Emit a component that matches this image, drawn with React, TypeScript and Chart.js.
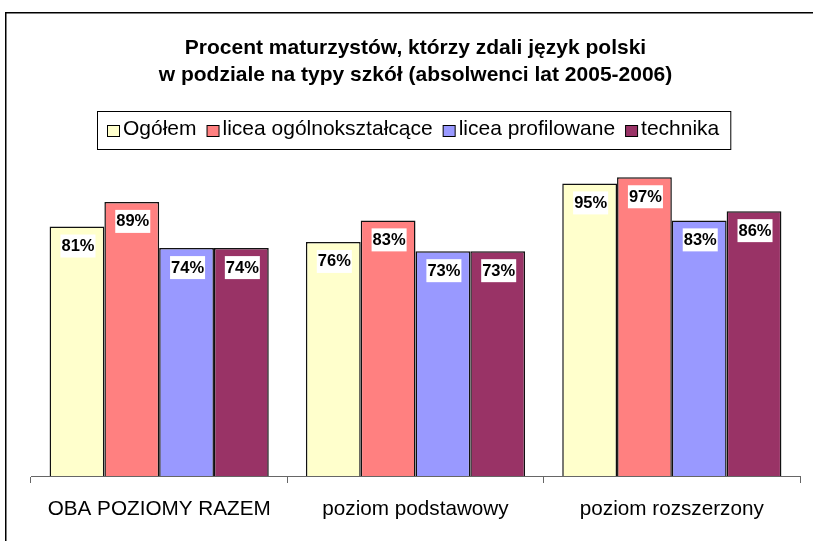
import React, { useEffect, useRef } from "react";
import { Chart, registerables } from "chart.js";

Chart.register(...registerables);

const categories = ["OBA POZIOMY RAZEM", "poziom podstawowy", "poziom rozszerzony"];
const seriesNames = ["Ogółem", "licea ogólnokształcące", "licea profilowane", "technika"];
const ogolem = [81, 76, 95];
const liceaOgolnoksztalcace = [89, 83, 97];
const liceaProfilowane = [74, 73, 83];
const technika = [74, 73, 86];
const seriesColors = ["#FFFFCC", "#FF8080", "#9999FF", "#993366"];
const titleLines = [
  "Procent maturzystów, którzy zdali język polski",
  "w podziale na typy szkół (absolwenci lat 2005-2006)",
];

const FONT = "'Liberation Sans', Arial, sans-serif";

const framePlugin = {
  id: "framePlugin",
  beforeDraw(chart: any) {
    const ctx = chart.ctx;
    ctx.save();
    ctx.fillStyle = "#fff";
    ctx.fillRect(0, 0, chart.width, chart.height);
    ctx.strokeStyle = "#000";
    ctx.lineWidth = 1.5;
    ctx.beginPath();
    ctx.moveTo(5.75, chart.height + 10);
    ctx.lineTo(5.75, 12.75);
    ctx.lineTo(chart.width + 10, 12.75);
    ctx.stroke();
    ctx.restore();
  },
};

const legendPlugin = {
  id: "boxLegend",
  afterDraw(chart: any) {
    const ctx = chart.ctx;
    ctx.save();
    ctx.font = `21px ${FONT}`;
    const sq = 13;
    const gapText = 3;
    const gapItem = 10;
    const items = chart.data.datasets.map((d: any) => ({
      label: d.label,
      color: d.backgroundColor,
      w: ctx.measureText(d.label).width,
    }));
    let total = 0;
    items.forEach((it: any, i: number) => {
      total += sq + gapText + it.w + (i < items.length - 1 ? gapItem : 0);
    });
    const padL = 10;
    const padR = 11;
    const boxW = total + padL + padR;
    const center = 414;
    const x0 = Math.round(center - boxW / 2);
    const top = 111;
    const bottom = 149;
    ctx.strokeStyle = "#000";
    ctx.lineWidth = 1;
    ctx.strokeRect(x0 + 0.5, top + 0.5, boxW, bottom - top);
    let x = x0 + padL;
    const baseline = 135;
    items.forEach((it: any) => {
      ctx.fillStyle = it.color;
      ctx.fillRect(x + 0.5, 125.5, sq - 1, 11);
      ctx.strokeStyle = "#000";
      ctx.strokeRect(x + 0.5, 125.5, sq - 1, 11);
      x += sq + gapText;
      ctx.fillStyle = "#000";
      ctx.textBaseline = "alphabetic";
      ctx.textAlign = "left";
      ctx.fillText(it.label, x, baseline);
      x += it.w + gapItem;
    });
    ctx.restore();
  },
};

const valueLabelPlugin = {
  id: "valueLabels",
  afterDatasetsDraw(chart: any) {
    const ctx = chart.ctx;
    ctx.save();
    ctx.font = `bold 16.5px ${FONT}`;
    ctx.textAlign = "center";
    ctx.textBaseline = "middle";
    chart.data.datasets.forEach((ds: any, di: number) => {
      const meta = chart.getDatasetMeta(di);
      meta.data.forEach((el: any, i: number) => {
        const text = `${ds.data[i]}%`;
        const w = ctx.measureText(text).width;
        const cx = el.x + 1;
        const top = el.y;
        ctx.fillStyle = "#fff";
        ctx.fillRect(cx - w / 2 - 1, top + 8, w + 2, 23);
        ctx.fillStyle = "#000";
        ctx.fillText(text, cx, top + 20);
      });
    });
    ctx.restore();
  },
};

export default function App() {
  const ref = useRef<HTMLCanvasElement | null>(null);
  useEffect(() => {
    if (!ref.current) return;
    const values = [ogolem, liceaOgolnoksztalcace, liceaProfilowane, technika];
    const chart = new Chart(ref.current, {
      type: "bar",
      data: {
        labels: categories,
        datasets: seriesNames.map((name, i) => ({
          label: name,
          data: values[i],
          backgroundColor: seriesColors[i],
          borderColor: "#111",
          borderWidth: 1.5,
          categoryPercentage: 0.855,
          barPercentage: 1,
        })),
      },
      options: {
        responsive: false,
        animation: false,
        devicePixelRatio: 1,
        layout: { padding: { left: 31, right: 13, top: 0, bottom: 5.16 } },
        plugins: {
          legend: { display: false },
          tooltip: { enabled: false },
          title: {
            display: true,
            text: titleLines,
            color: "#000",
            font: { family: FONT, size: 21, weight: "bold", lineHeight: 1.31 },
            padding: { top: 34.25, bottom: 78.75 },
          },
        },
        scales: {
          x: {
            grid: {
              display: true,
              drawOnChartArea: false,
              drawTicks: true,
              tickLength: 7,
              color: "#666",
              offset: true,
            },
            border: { display: true, color: "#666", width: 1 },
            ticks: {
              color: "#000",
              font: { family: FONT, size: 20.7 },
              padding: 14,
              maxRotation: 0,
              autoSkip: false,
            },
          },
          y: { display: false, min: 0, max: 100 },
        },
      },
      plugins: [framePlugin, valueLabelPlugin, legendPlugin],
    });
    return () => chart.destroy();
  }, []);
  return (
    <div
      style={{
        position: "fixed",
        left: 0,
        top: 0,
        width: 813,
        height: 541,
        overflow: "hidden",
        background: "#fff",
      }}
    >
      <canvas ref={ref} width={813} height={541} style={{ display: "block" }} />
    </div>
  );
}
